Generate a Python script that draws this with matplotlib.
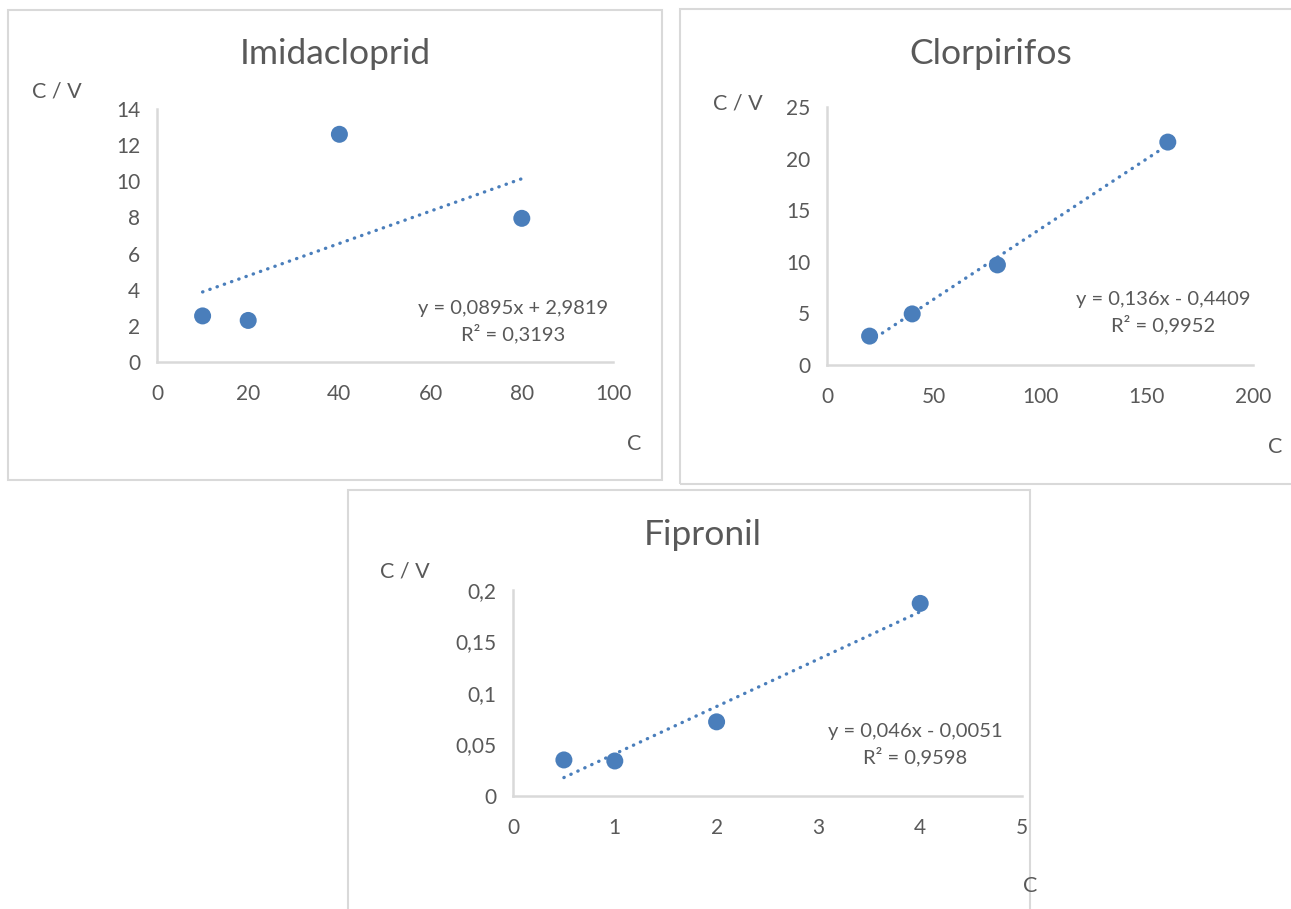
import numpy as np
import matplotlib
matplotlib.use("Agg")
import matplotlib.pyplot as plt
from matplotlib.patches import Rectangle
from matplotlib.ticker import FuncFormatter

plt.rcParams['font.family'] = ['Lato', 'DejaVu Sans']

W, H = 1291, 909

# data
imi_x = [10, 20, 40, 80]
imi_y = [2.55, 2.3, 12.6, 7.95]
imi_fit = [0.0895, 2.9819]
imi_r2 = 0.3193

clo_x = [20, 40, 80, 160]
clo_y = [2.8, 4.95, 9.7, 21.6]
clo_fit = [0.136, -0.4409]
clo_r2 = 0.9952

fip_x = [0.5, 1, 2, 4]
fip_y = [0.035, 0.034, 0.072, 0.187]
fip_fit = [0.046, -0.0051]
fip_r2 = 0.9598

blue = '#4a7ebb'
grey_txt = '#595959'
grey_line = '#d9d9d9'

fig = plt.figure(figsize=(W / 100, H / 100), dpi=100)


def px(x, y):
    return x / W, 1 - y / H


def comma(v, pos):
    return ('%g' % v).replace('.', ',')


def fmt_eq(a, b):
    s = '-' if b < 0 else '+'
    return ('y = %gx %s %g' % (a, s, abs(b))).replace('.', ',')


def panel(frame, box, title, title_xy, xs, ys, fit, r2, xlim, ylim, xt, yt,
          eq_xy, cv_xy, c_xy):
    # frame around the chart
    fx0, fy0, fx1, fy1 = frame
    fig.patches.append(Rectangle(px(fx0, fy1), (fx1 - fx0) / W, (fy1 - fy0) / H,
                                 transform=fig.transFigure, fill=False,
                                 edgecolor=grey_line, lw=1.5))
    l, t, r, b = box
    ax = fig.add_axes([l / W, 1 - b / H, (r - l) / W, (b - t) / H])
    ax.scatter(xs, ys, s=150, color=blue, zorder=3, edgecolors='none')
    a, c = fit
    lx = np.array([min(xs), max(xs)])
    ax.plot(lx, a * lx + c, color=blue, lw=2.4, linestyle=(0, (0.1, 2.2)),
            dash_capstyle='round', zorder=2)
    ax.set_xlim(*xlim)
    ax.set_ylim(*ylim)
    ax.set_xticks(xt)
    ax.set_yticks(yt)
    ax.xaxis.set_major_formatter(FuncFormatter(comma))
    ax.yaxis.set_major_formatter(FuncFormatter(comma))
    for s in ['top', 'right']:
        ax.spines[s].set_visible(False)
    for s in ['left', 'bottom']:
        ax.spines[s].set_color(grey_line)
        ax.spines[s].set_linewidth(1.8)
    ax.tick_params(length=0, labelsize=15, colors=grey_txt)
    ax.tick_params(axis='x', pad=16)
    ax.tick_params(axis='y', pad=12)
    ax.patch.set_alpha(0)
    fig.text(*px(*title_xy), title, ha='center', va='center', fontsize=25.5,
             color=grey_txt)
    fig.text(*px(*eq_xy), fmt_eq(a, c) + '\n' + ('R² = %g' % r2).replace('.', ','),
             ha='center', va='center', multialignment='center', fontsize=14.5,
             color=grey_txt, linespacing=1.4)
    fig.text(*px(*cv_xy), 'C / V', ha='center', va='center', fontsize=15.5,
             color=grey_txt)
    fig.text(*px(*c_xy), 'C', ha='center', va='center', fontsize=15.5,
             color=grey_txt)
    return ax


panel((8, 10, 662, 480), (157, 109, 613, 362), 'Imidacloprid', (335, 54),
      imi_x, imi_y, imi_fit, imi_r2, (0, 100), (0, 14),
      [0, 20, 40, 60, 80, 100], [0, 2, 4, 6, 8, 10, 12, 14],
      (513, 322), (57, 92), (634, 444))

panel((680, 9, 1295, 484), (827, 107, 1253, 365), 'Clorpirifos', (991, 54),
      clo_x, clo_y, clo_fit, clo_r2, (0, 200), (0, 25),
      [0, 50, 100, 150, 200], [0, 5, 10, 15, 20, 25],
      (1163, 313), (738, 104), (1275, 447))

panel((348, 490, 1030, 915), (513, 590, 1022, 796), 'Fipronil', (703, 535),
      fip_x, fip_y, fip_fit, fip_r2, (0, 5), (0, 0.2),
      [0, 1, 2, 3, 4, 5], [0, 0.05, 0.1, 0.15, 0.2],
      (915, 745), (405, 571), (1030, 886))

fig.savefig('out.png', dpi=100)
